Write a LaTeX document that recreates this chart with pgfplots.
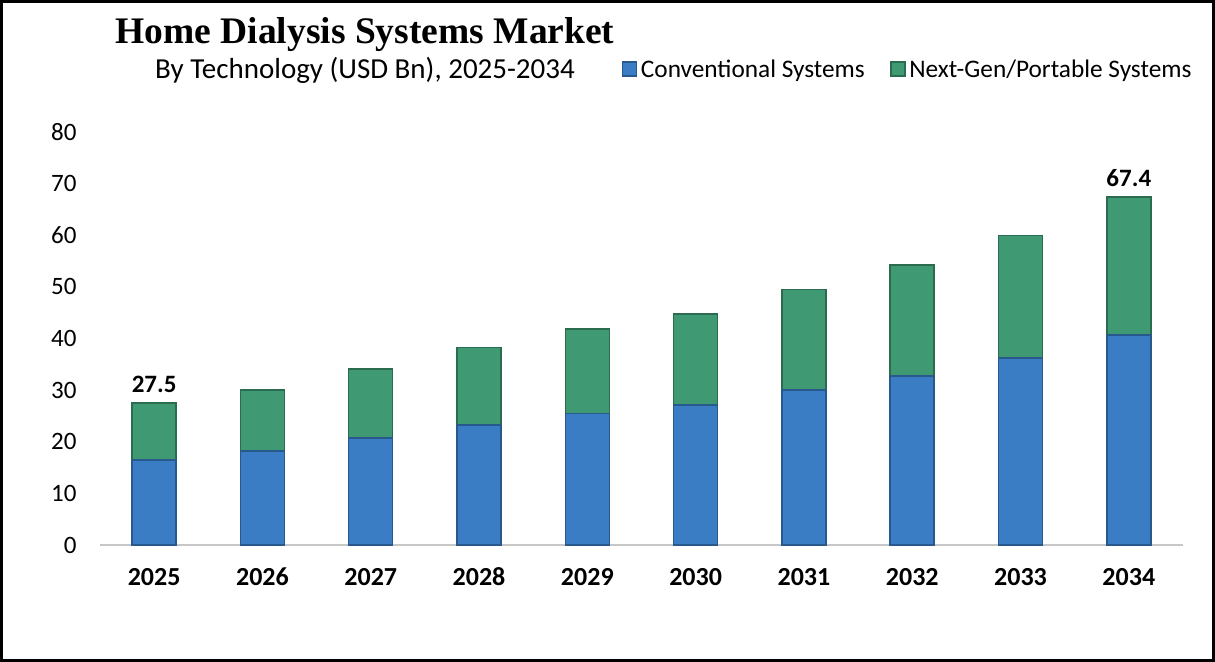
\documentclass[border=0pt]{standalone}
\usepackage{pgfplots}
\pgfplotsset{compat=1.18}
\usepackage{pgfplotstable}
\usepackage{fontspec}
\setmainfont{Carlito}
\newfontfamily\titlefont{Liberation Serif}

\definecolor{convblue}{HTML}{3A7DC4}
\definecolor{convedge}{HTML}{27598C}
\definecolor{nextgreen}{HTML}{3F9A74}
\definecolor{nextedge}{HTML}{2B6B50}

% x: 0 = 2025 ... 9 = 2034
\pgfplotstableread{
x conv next total show
0 16.5 11.0 27.5 1
1 18.2 11.8 30.0 0
2 20.7 13.4 34.1 0
3 23.2 15.1 38.3 0
4 25.5 16.3 41.8 0
5 27.1 17.6 44.7 0
6 30.0 19.5 49.5 0
7 32.7 21.5 54.2 0
8 36.2 23.8 60.0 0
9 40.7 26.7 67.4 1
}\datatable

\pgfplotsset{chartframe/.style={
    at={(100bp,117bp)}, anchor=south west,
    scale only axis,
    width=1083bp, height=413bp,
    bar width=44bp,
    xmin=-0.5, xmax=9.5,
    ymin=0, ymax=80,
    clip=false,
    /pgf/number format/assume math mode=true,
}}

\begin{document}
\begin{tikzpicture}
\useasboundingbox (0,0) rectangle (1215bp,662bp);
\draw[line width=3bp] (1.5bp,1.5bp) rectangle (1213.5bp,660.5bp);

\node[font=\titlefont\bfseries\fontsize{37.5bp}{44bp}\selectfont] at (365bp,627bp) {Home Dialysis Systems Market};
\node[font=\fontsize{29bp}{34bp}\selectfont] at (365bp,592bp) {By Technology (USD Bn), 2025-2034};

\begin{axis}[
    chartframe,
    ybar stacked,
    ytick={0,10,...,80},
    xtick={0,...,9},
    xticklabels={2025,2026,2027,2028,2029,2030,2031,2032,2033,2034},
    axis lines*=left,
    separate axis lines,
    y axis line style={draw=none},
    x axis line style={draw=black!22, line width=1.5bp},
    major tick length=0pt,
    yticklabel style={font=\fontsize{25bp}{30bp}\selectfont, anchor=east, xshift=-20bp},
    xticklabel style={font=\bfseries\fontsize{26bp}{30bp}\selectfont, anchor=north,
        text height=17bp, text depth=0bp, yshift=-20bp},
    legend style={at={(rel axis cs:0.479,1.1525)}, anchor=west, draw=none, fill=none,
        legend columns=2, font=\fontsize{25.3bp}{30bp}\selectfont,
        nodes={inner xsep=3.5bp},
        /tikz/every even column/.append style={column sep=22bp}},
    legend image code/.code={\draw[#1] (0bp,-7bp) rectangle (14bp,7bp);},
]
\addplot+[fill=convblue, draw=convedge, line width=1.5bp] table[x=x, y=conv] {\datatable};
\addlegendentry{Conventional Systems}
\addplot+[fill=nextgreen, draw=nextedge, line width=1.5bp] table[x=x, y=next] {\datatable};
\addlegendentry{Next-Gen/Portable Systems}
\end{axis}

% same frame, plain bars of the totals, only to carry the two value labels
\begin{axis}[
    chartframe,
    ybar,
    hide axis,
]
\addplot[draw=none, fill=none,
    visualization depends on={\thisrow{show} \as \showlabel},
    nodes near coords={\ifdim\showlabel pt>0.5pt \pgfmathprintnumber[fixed, fixed zerofill, precision=1]{\pgfplotspointmeta}\fi},
    every node near coord/.append style={font=\bfseries\fontsize{25bp}{30bp}\selectfont,
        text=black, anchor=south, yshift=7bp},
] table[x=x, y=total] {\datatable};
\end{axis}
\end{tikzpicture}
\end{document}
